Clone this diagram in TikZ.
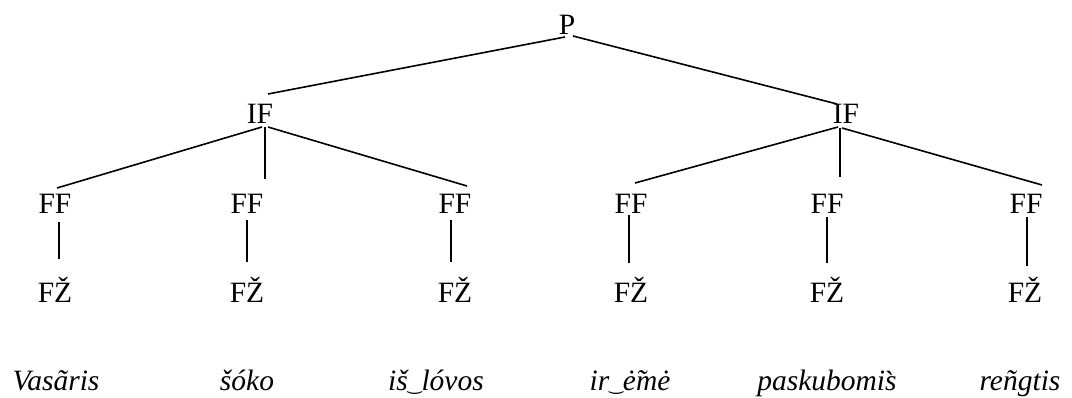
\documentclass[tikz,border=0pt]{standalone}
\usepackage{fontspec}
\setmainfont{Liberation Serif}
\newfontfamily\tiefont{DejaVu Sans}
\newcommand{\utie}{{\tiefont\upshape\fontsize{17}{19}\selectfont\raisebox{1pt}{‿}}}
\usetikzlibrary{calc}
\tikzset{
  lab/.style={anchor=base, inner sep=0pt, font=\fontsize{29.5}{34}\selectfont},
  word/.style={anchor=base, inner sep=0pt, font=\fontsize{29.5}{34}\selectfont\itshape},
  edge/.style={line width=1.6pt}
}
\begin{document}
\begin{tikzpicture}[x=1pt,y=-1pt]
\useasboundingbox (0,0) rectangle (1072,398);
\node[lab] (P) at (567,35) {P};
\node[lab] (ifl) at (260,124) {IF};
\node[lab] (ifr) at (846,124) {IF};
\node[lab] (ff1) at (55,214) {FF};
\node[lab] (ff2) at (247,214) {FF};
\node[lab] (ff3) at (455,214) {FF};
\node[lab] (ff4) at (631,214) {FF};
\node[lab] (ff5) at (827,214) {FF};
\node[lab] (ff6) at (1026,214) {FF};
\node[lab] (fz1) at (55,303) {FŽ};
\node[lab] (fz2) at (247,303) {FŽ};
\node[lab] (fz3) at (455,303) {FŽ};
\node[lab] (fz4) at (631,303) {FŽ};
\node[lab] (fz5) at (827,303) {FŽ};
\node[lab] (fz6) at (1025,303) {FŽ};
\node[word] (w1) at (56,391) {Vasãris};
\node[word] (w2) at (247,391) {šóko};
\node[word] (w3) at (436,391) {iš\utie lóvos};
\node[word] (w4) at (630,391) {ir\utie ė̃mė};
\node[word] (w5) at (827,391) {paskubomis̀};
\node[word] (w6) at (1020,391) {reñgtis};
% P level
\draw[edge] ($(P.base)+(-2,2)$) -- ($(ifl.base)+(8,-30)$);
\draw[edge] ($(P.base)+(6,1)$) -- ($(ifr.base)+(-9,-20)$);
% left IF
\draw[edge] ($(ifl.base)+(2,3)$) -- ($(ff1.base)+(2,-26)$);
\draw[edge] ($(ifl.base)+(5,3)$) -- ($(ff2.base)+(18,-35)$);
\draw[edge] ($(ifl.base)+(8,3)$) -- ($(ff3.base)+(12,-28)$);
% right IF
\draw[edge] ($(ifr.base)+(-8,3)$) -- ($(ff4.base)+(4,-31)$);
\draw[edge] ($(ifr.base)+(-6,4)$) -- ($(ff5.base)+(13,-37)$);
\draw[edge] ($(ifr.base)+(-4,4)$) -- ($(ff6.base)+(16,-29)$);
% FF to FZ
\draw[edge] ($(ff1.base)+(4,8)$) -- ($(fz1.base)+(4,-44)$);
\draw[edge] ($(ff2.base)+(0,6)$) -- ($(fz2.base)+(0,-41)$);
\draw[edge] ($(ff3.base)+(-4,6)$) -- ($(fz3.base)+(-4,-41)$);
\draw[edge] ($(ff4.base)+(-2,1)$) -- ($(fz4.base)+(-2,-40)$);
\draw[edge] ($(ff5.base)+(0,3)$) -- ($(fz5.base)+(0,-40)$);
\draw[edge] ($(ff6.base)+(1,3)$) -- ($(fz6.base)+(2,-37)$);
\end{tikzpicture}
\end{document}
